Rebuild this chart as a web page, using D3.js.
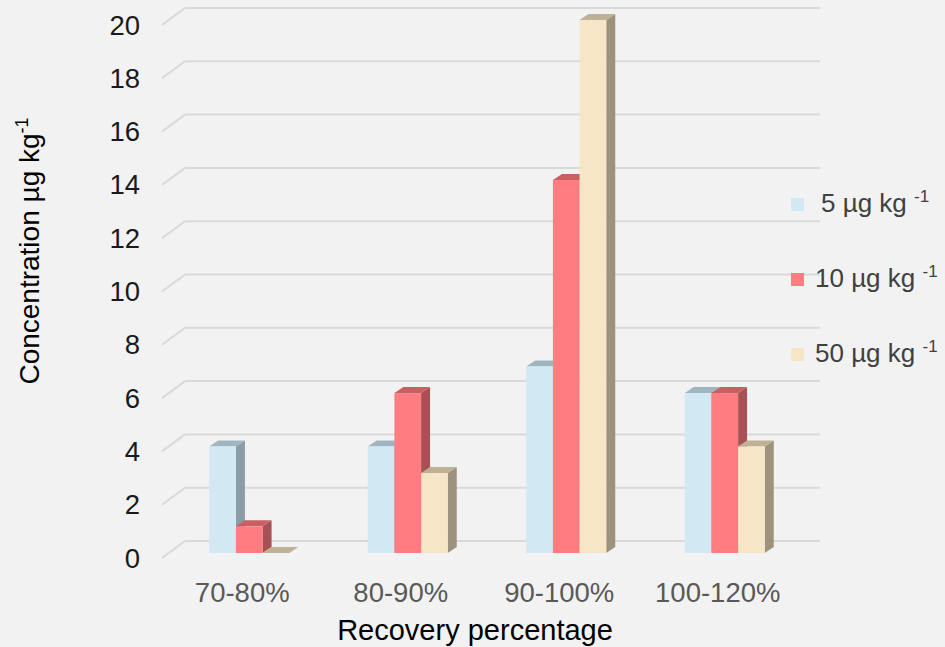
<!DOCTYPE html>
<html>
<head>
<meta charset="utf-8">
<script src="https://cdn.jsdelivr.net/npm/d3@7/dist/d3.min.js"></script>
<style>
html,body{margin:0;padding:0;background:#f2f2f2;}
svg{display:block;font-family:"Liberation Sans",Arial,sans-serif;}
</style>
</head>
<body>
<svg id="chart" width="945" height="647"></svg>
<script>
const categories = ["70-80%", "80-90%", "90-100%", "100-120%"];
const seriesNames = ["5 µg kg", "10 µg kg", "50 µg kg"];
const series5 = [4, 4, 7, 6];
const series10 = [1, 6, 14, 6];
const series50 = [0, 3, 20, 4];
const yTicks = [0, 2, 4, 6, 8, 10, 12, 14, 16, 18, 20];

const seriesValues = [series5, series10, series50];
const faceColors = [
  {front: "#d2e8f2", top: "#9fb5c0", side: "#8a9ca6"},
  {front: "#ff7c80", top: "#c85f62", side: "#a85155"},
  {front: "#f6e6c7", top: "#bfb195", side: "#9d927d"}
];

const svg = d3.select("#chart");
const W = 945, H = 647;
svg.append("rect").attr("width", W).attr("height", H).attr("fill", "#f2f2f2");

// scales (front plane of bars)
const y = d3.scaleLinear().domain([0, 20]).range([553, 20]);
const x = d3.scaleBand().domain(categories).range([163, 797]).paddingInner(0).paddingOuter(0);
const inner = d3.scaleBand().domain(d3.range(3)).range([0, 80]);

const floorFront = 5;   // front edge of the floor below bar front
const wallBackDY = -12; // back wall offset from bar front
const wallLeftX0 = 162, wallLeftX1 = 185, wallRight = 820;
const depthX = 9, depthY = -6;

// gridlines
const grid = svg.append("g");
yTicks.forEach(v => {
  const yf = y(v) + floorFront, yb = y(v) + wallBackDY;
  grid.append("line").attr("x1", wallLeftX0).attr("y1", yf).attr("x2", wallLeftX1).attr("y2", yb)
    .attr("stroke", "#d9d9d9").attr("stroke-width", 2);
  grid.append("line").attr("x1", wallLeftX1).attr("y1", yb).attr("x2", wallRight).attr("y2", yb)
    .attr("stroke", "#d9d9d9").attr("stroke-width", 2);
});

// y tick labels
const yAxisG = svg.append("g");
yTicks.forEach(v => {
  yAxisG.append("text").attr("x", 140).attr("y", y(v) + floorFront)
    .attr("text-anchor", "end").attr("dominant-baseline", "central")
    .attr("font-size", 27.5).attr("fill", "#1a1a1a").text(v);
});

// bars
const barsG = svg.append("g");
categories.forEach((c, i) => {
  const gx = x(c) + x.bandwidth() / 2 - 33;
  seriesValues.forEach((vals, s) => {
    const v = vals[i];
    const x0 = gx + inner(s), x1 = x0 + inner.bandwidth();
    const yt = y(v), yb = y(0);
    const col = faceColors[s];
    if (yb - yt > 0) {
      barsG.append("path")
        .attr("d", `M${x1},${yt}L${x1 + depthX},${yt + depthY}L${x1 + depthX},${yb + depthY}L${x1},${yb}Z`)
        .attr("fill", col.side);
    }
    barsG.append("path")
      .attr("d", `M${x0},${yt}L${x0 + depthX},${yt + depthY}L${x1 + depthX},${yt + depthY}L${x1},${yt}Z`)
      .attr("fill", col.top);
    if (yb - yt > 0) {
      barsG.append("rect").attr("x", x0).attr("y", yt).attr("width", x1 - x0).attr("height", yb - yt)
        .attr("fill", col.front);
    }
  });
});

// category labels
categories.forEach(c => {
  svg.append("text").attr("x", x(c) + x.bandwidth() / 2).attr("y", 602)
    .attr("text-anchor", "middle").attr("font-size", 27.5).attr("fill", "#595959").text(c);
});

// x axis title
svg.append("text").attr("x", 475).attr("y", 640).attr("text-anchor", "middle")
  .attr("font-size", 29).attr("fill", "#000").text("Recovery percentage");

// y axis title
const yt = svg.append("text").attr("transform", "translate(39,251) rotate(-90)")
  .attr("text-anchor", "middle").attr("font-size", 28).attr("fill", "#000");
yt.append("tspan").text("Concentration µg kg");
yt.append("tspan").attr("font-size", 18).attr("dy", -11).text("-1");

// legend
const legendY = [205, 280, 355];
seriesNames.forEach((n, s) => {
  svg.append("rect").attr("x", 791).attr("y", legendY[s] - 7).attr("width", 13).attr("height", 13)
    .attr("fill", faceColors[s].front);
  const t = svg.append("text").attr("x", s === 0 ? 821 : 815).attr("y", legendY[s] + 7)
    .attr("font-size", 26).attr("fill", "#404040");
  t.append("tspan").text(n + " ");
  t.append("tspan").attr("font-size", 17).attr("dy", -10).text("-1");
});
</script>
</body>
</html>
